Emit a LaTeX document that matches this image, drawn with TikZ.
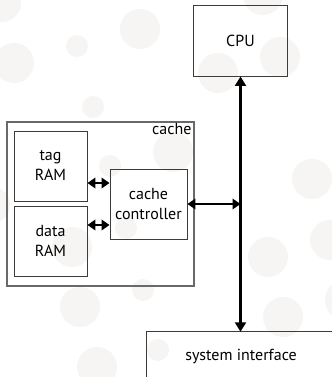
\documentclass[tikz,border=0pt]{standalone}
\usepackage{fontspec}
\setmainfont{PT Sans}
\usetikzlibrary{arrows.meta}
\definecolor{dotgray}{RGB}{246,245,244}
\definecolor{boxline}{RGB}{60,60,60}
\definecolor{outerline}{RGB}{105,105,105}
\tikzset{
  labelfont/.style={font=\fontsize{16bp}{20bp}\selectfont},
  unit/.style={draw=boxline, line width=0.9bp, align=center, inner sep=0pt, labelfont},
  biarrow/.style={line width=2bp, {Triangle[length=8bp,width=10.5bp]}-{Triangle[length=8bp,width=10.5bp]}},
  busarrow/.style={line width=2.2bp, {Triangle[length=9.5bp,width=11bp]}-{Triangle[length=9.5bp,width=11bp]}},
  dot/.style={fill=dotgray, draw=none},
}
\begin{document}
\begin{tikzpicture}[x=1bp,y=-1bp]
  \useasboundingbox (0,0) rectangle (332,377);
  \fill[white] (0,0) rectangle (332,377);
  % faint background dots
  \begin{scope}
    \clip (0,0) rectangle (332,377);
    \foreach \cx/\cy/\r in {2/3/19, 140/29/20, 77/46/11, 14/63/20, 93/107/11,
        263/-5/20, 280/57/20, 218/73/20, 173/152/20, 110/166/11, 126/228/11,
        72/247/20, -8/205/18, 143/290/11, 80/307/20, 97/367/20, 158/350/11,
        283/317/20, 345/300/20, 312/179/20, 330/240/20, 268/257/20}
      \path[dot] (\cx,\cy) circle[radius=\r];
  \end{scope}

  % cache block
  \node[draw=outerline, line width=1.2bp, minimum width=187bp, minimum height=164bp, inner sep=0pt]
    (cache) at (100.5,204) {};
  \node[anchor=north east, inner sep=0pt, labelfont]
    (cachelabel) at ([xshift=-3bp,yshift=-2bp]cache.north east) {cache};

  \node[unit, minimum width=73bp, minimum height=70bp] (tag) at (50.5,166) {tag\\RAM};
  \node[unit, minimum width=73bp, minimum height=70bp] (data) at (50.5,241) {data\\RAM};
  \node[unit, minimum width=77bp, minimum height=70bp] (ctrl) at (148.5,204) {cache\\controller};

  % processor
  \node[unit, minimum width=94bp, minimum height=71bp] (cpu) at (240.5,40.5) {CPU};

  % system interface, open towards the page edge
  \node[minimum width=190bp, minimum height=90bp, inner sep=0pt] (sysif) at (242,377) {};
  \draw[boxline, line width=0.9bp] (sysif.south west) -- (sysif.north west) -- (sysif.north east);
  \node[labelfont, inner sep=0pt] (sysiflabel) at (241,356) {system interface};

  % connections
  \coordinate (ctrlA) at ([yshift=21bp]ctrl.west);
  \coordinate (ctrlB) at ([yshift=-21bp]ctrl.west);
  \draw[biarrow] (tag.east |- ctrlA) -- (ctrlA);
  \draw[biarrow] (data.east |- ctrlB) -- (ctrlB);
  \draw[busarrow] (cpu.south) -- (cpu.south |- sysif.north);
  \draw[biarrow] (ctrl.east) -- (ctrl.east -| cpu.south);
\end{tikzpicture}
\end{document}
